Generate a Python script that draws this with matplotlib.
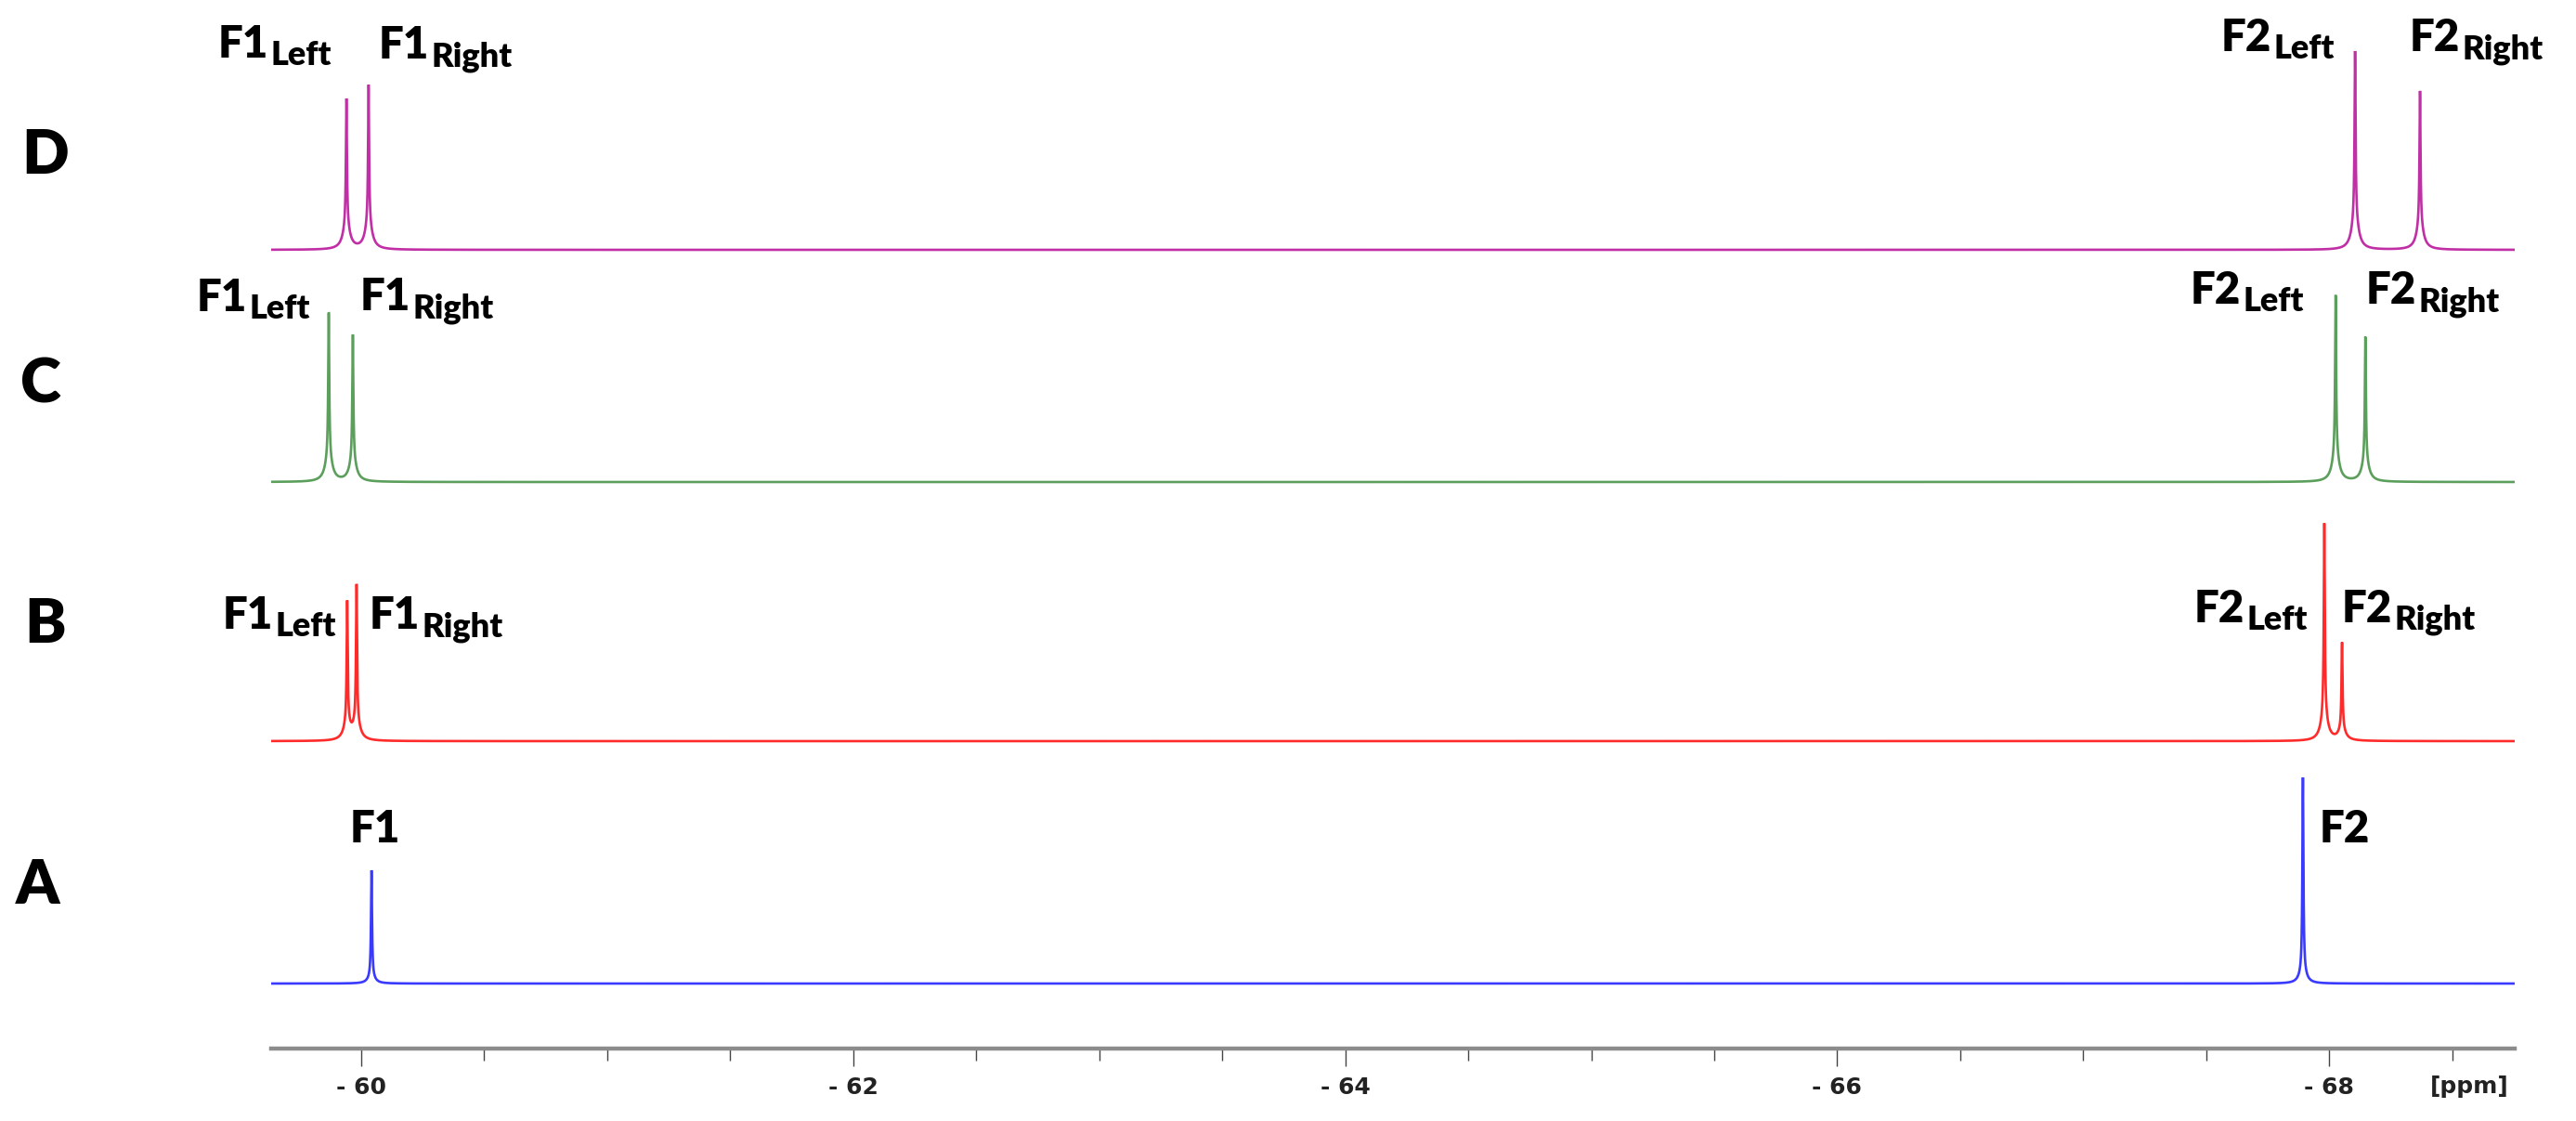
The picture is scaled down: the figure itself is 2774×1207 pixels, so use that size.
import matplotlib.pyplot as plt
import numpy as np
from matplotlib.ticker import FixedLocator, FuncFormatter

# chemical shift window shown on the axis (ppm, left -> right)
ppm_left = -59.634
ppm_right = -68.754

# spectra, bottom to top
spectra = ['A', 'B', 'C', 'D']

# peak positions (ppm) and intensities (a.u.)
A_shift = [-60.042, -67.893]
A_height = [122, 222]
B_shift = [-59.943, -59.981, -67.980, -68.052]
B_height = [148, 166, 234, 105]
C_shift = [-59.868, -59.966, -68.026, -68.147]
C_height = [182, 158, 201, 156]
D_shift = [-59.940, -60.030, -68.105, -68.369]
D_height = [162, 177, 214, 171]

# peak labels (main, subscript)
A_labels = [('F1', ''), ('F2', '')]
split_labels = [('F1', 'Left'), ('F1', 'Right'), ('F2', 'Left'), ('F2', 'Right')]

major_ticks = [-60, -62, -64, -66, -68]
minor_ticks = [-60.5, -61, -61.5, -62.5, -63, -63.5, -64.5, -65, -65.5,
               -66.5, -67, -67.5, -68.5]

shifts = {'A': A_shift, 'B': B_shift, 'C': C_shift, 'D': D_shift}
heights = {'A': A_height, 'B': B_height, 'C': C_height, 'D': D_height}
labels = {'A': A_labels, 'B': split_labels, 'C': split_labels, 'D': split_labels}

# layout (figure pixels from top-left) and styles
W, H = 2774, 1207
AXIS_Y = 1129
baseline_px = {'A': 1059, 'B': 798, 'C': 519, 'D': 269}
colors = {'A': '#3a3aff', 'B': '#ff2a2a', 'C': '#5c9f5c', 'D': '#c02fa5'}
base_frac = {'A': 0.06, 'B': 0.12, 'C': 0.15, 'D': 0.16}
letter_pos = {'A': (17, 973), 'B': (26, 692), 'C': (22, 434), 'D': (23, 187)}
label_pos = {
    'A': [(377, 907), (2498, 907)],
    'B': [(240, 677), (398, 677), (2363, 670), (2522, 670)],
    'C': [(212, 335), (388, 334), (2359, 327), (2548, 327)],
    'D': [(235, 62), (408, 63), (2392, 55), (2595, 55)],
}

LABEL_FONT = ['Lato', 'DejaVu Sans']
G_NARROW = 0.0025   # ppm, half width of the sharp line
G_BASE = 0.016      # ppm, half width of the broad foot


def fx(x):
    return x / W


def fy(y):
    return 1 - y / H


def lineshape(x, pos, amp, frac):
    y = np.zeros_like(x)
    for s, h in zip(pos, amp):
        y += (1 - frac) * h * G_NARROW**2 / ((x - s)**2 + G_NARROW**2)
        y += frac * h * G_BASE**2 / ((x - s)**2 + G_BASE**2)
    return y


fig = plt.figure(figsize=(W / 100, H / 100), dpi=100)
fig.patch.set_facecolor('white')
ax = fig.add_axes([fx(292), fy(AXIS_Y), (2708 - 292) / W, AXIS_Y / H])
ax.set_xlim(ppm_left, ppm_right)
ax.set_ylim(0, AXIS_Y)

x = np.linspace(ppm_left, ppm_right, 60000)
for name in spectra:
    offset = AXIS_Y - baseline_px[name]
    y = lineshape(x, shifts[name], heights[name], base_frac[name])
    ax.plot(x, offset + y, color=colors[name], lw=1.9, solid_joinstyle='miter')

# axis styling: only the bottom ruler
for side in ['top', 'left', 'right']:
    ax.spines[side].set_visible(False)
ax.spines['bottom'].set_color('#8c8c8c')
ax.spines['bottom'].set_linewidth(3.2)
ax.set_yticks([])
ax.xaxis.set_major_locator(FixedLocator(major_ticks))
ax.xaxis.set_minor_locator(FixedLocator(minor_ticks))
ax.xaxis.set_major_formatter(FuncFormatter(lambda v, p: '- %d' % abs(round(v))))
ax.tick_params(axis='x', which='major', length=13.7, width=1.0, color='#444444',
               direction='out', pad=8, labelsize=18, labelcolor='#222222')
ax.tick_params(axis='x', which='minor', length=9.4, width=1.0, color='#444444',
               direction='out')
for lbl in ax.get_xticklabels():
    lbl.set_fontweight('bold')
ax.patch.set_alpha(0)

fig.text(fx(2659), fy(1177), '[ppm]', ha='center', va='baseline',
         fontsize=18, fontweight='bold', color='#222222')

# spectrum letters
for name in spectra:
    lx, ly = letter_pos[name]
    fig.text(fx(lx), fy(ly), name, ha='left', va='baseline', fontsize=48,
             fontweight='heavy', family=LABEL_FONT, color='black')

# peak labels with subscripts
for name in spectra:
    for (main, sub), (lx, ly) in zip(labels[name], label_pos[name]):
        t = fig.text(fx(lx), fy(ly), main, ha='left', va='baseline',
                     fontsize=34, fontweight='heavy', family=LABEL_FONT,
                     color='black')
        if sub:
            ax.annotate(sub, xy=(1, fy(ly + 8)), xycoords=(t, 'figure fraction'),
                        xytext=(2, 0), textcoords='offset pixels',
                        ha='left', va='baseline', fontsize=26,
                        fontweight='heavy', family=LABEL_FONT, color='black')

fig.savefig('out.png', dpi=100, facecolor='white')
